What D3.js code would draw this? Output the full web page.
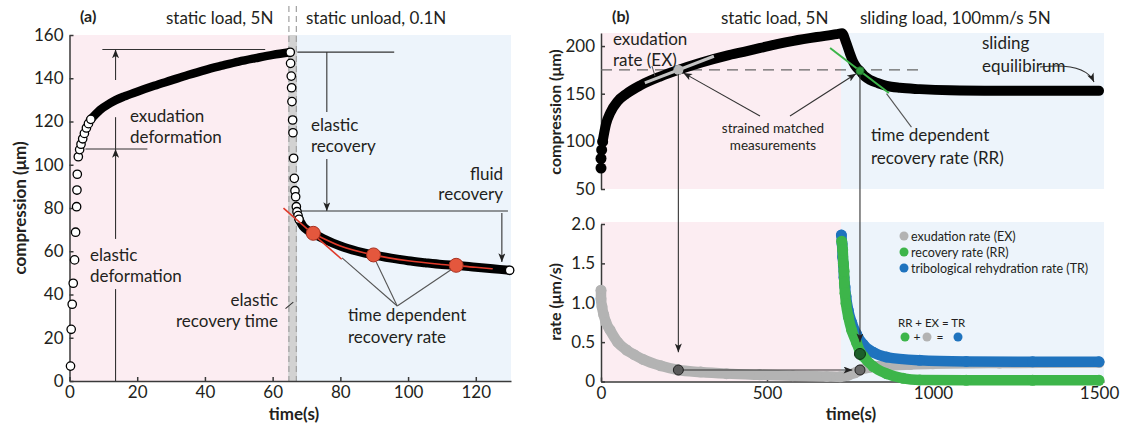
<!DOCTYPE html>
<html><head><meta charset="utf-8">
<script src="https://cdn.jsdelivr.net/npm/d3@7"></script>
<style>
body{margin:0;background:#fff}
text{font-family:Lato,'Open Sans',sans-serif;fill:#231f20}
.axis path,.axis line{stroke:#3a3a3a;stroke-width:1.5}
.axis text{font-family:Lato,'Open Sans',sans-serif;font-size:17px;fill:#231f20}
</style>
</head><body><svg id="c" width="1128" height="427"></svg>
<script>
// ---------- Panel (a) data ----------
const aXTicks = [0,20,40,60,80,100,120];
const aYTicks = [0,20,40,60,80,100,120,140,160];
const aLoadSparseT = [0.3,0.5,0.8,1.1,1.5,1.8,2.1,2.2,2.3,2.6,3.0,3.4,3.9,4.4,5.0,5.6,6.3];
const aLoadSparseV = [6.9,23.9,35.5,45.2,56,68.8,80.6,88.3,95.6,103.7,107,109.5,112,114.5,117,119,121];
const aLoadCurveT = [6,7.5,9,12,16,20,25,30,35,40,45,50,55,60,65.2];
const aLoadCurveV = [120.5,123,125.3,128.5,131.5,133.8,136.5,139,141.5,143.8,145.8,147.7,149.3,150.8,152];
const aUnloadT = [65.2,65.3,65.5,65.6,65.7,65.9,66.0,66.2,66.4,66.6,66.8,67.0,67.2,67.5,67.8];
const aUnloadV = [152,146.9,141,135.6,129.2,120.7,114.8,103,93.7,88,85.2,80.6,78.3,76.5,74.8];
const aRecovT = [67.8,69,70.5,72,75,80,85,90,95,100,105,110,115,120,125,130];
const aRecovV = [74.8,71.5,69.5,68.2,65.8,62.4,60,58.2,56.8,55.6,54.7,53.9,53.4,52.6,51.9,51.2];
const aFitT = [72,80,90,100,110,120,125];
const aFitV = [68.2,62.4,58.2,55.6,53.9,52.6,51.9];
const aRedT = [72,89.8,114.2];
const aRedV = [68.3,58.3,53.5];
const aTangentT = [63.2,80.4];
const aTangentV = [79.9,56.3];

// ---------- Panel (b) data ----------
const bXTicks = [0,500,1000,1500];
const bTopYTicks = [50,100,150,200];
const bBotYTicks = [0,0.5,1.0,1.5,2.0];
const bCompSparseT = [0,0,2,5];
const bCompSparseV = [72,82,91,99.6];
const bCompT = [5,15,28,50,77,120,178,233,300,379,430,480,530,580,650,710,726,738,750,760,770,780,795,810,835,860,900,960,1050,1200,1350,1500];
const bCompV = [100,118,130,142,150,159,168,175,182.5,190,194,198,202,205.5,209.5,212.5,213.5,204,192,183,177.5,174,168,164.5,161,158.3,156.2,154.8,153.6,153.1,153,153];
const bExT = [0,0,3,8,15,27,50,77,100,127,180,233,300,378,478,578,680,720,745,765,780,810,860,931,1000,1200,1500];
const bExV = [1.16,1.05,0.95,0.85,0.75,0.655,0.5,0.40,0.34,0.28,0.2,0.146,0.12,0.10,0.085,0.074,0.065,0.06,0.08,0.11,0.146,0.18,0.2,0.215,0.225,0.235,0.24];
const bRrT = [725,728,730,732,733,735,738,745,755,770,780,790,820,860,910,960,1100,1300,1500];
const bRrV = [1.78,1.67,1.50,1.40,1.25,1.12,0.99,0.82,0.65,0.49,0.38,0.32,0.19,0.10,0.04,0.02,0.015,0.015,0.015];
const bTrT = [724,726,728,730,732,735,738,745,755,770,790,820,860,960,1100,1300,1500];
const bTrV = [1.86,1.75,1.58,1.48,1.32,1.2,1.08,0.9,0.75,0.60,0.47,0.37,0.31,0.27,0.255,0.25,0.25];
const bExPointT = 233, bRrPointT = 780;
const bLegendLabels = ["exudation rate (EX)","recovery rate (RR)","tribological rehydration rate (TR)"];
const bLegendColors = ["#b3b3b3","#3db54a","#1f73be"];

const svg = d3.select("#c");
const zip = (T,V) => T.map((t,i)=>[t,V[i]]);

const defs = svg.append("defs");
defs.append("marker").attr("id","arr").attr("viewBox","0 0 10 8").attr("refX",10).attr("refY",4)
  .attr("markerWidth",9).attr("markerHeight",7).attr("markerUnits","userSpaceOnUse").attr("orient","auto")
  .append("path").attr("d","M0,0 L10,4 L0,8 L2.5,4 z").attr("fill","#222");

// ================= PANEL A =================
const xA = d3.scaleLinear([0,130.4],[69.5,511]);
const yA = d3.scaleLinear([0,160],[381,35]);
const gA = svg.append("g");
gA.append("rect").attr("x",xA(0)).attr("y",yA(160)).attr("width",xA(64.6)-xA(0)).attr("height",yA(0)-yA(160)).attr("fill","#fcedf2");
gA.append("rect").attr("x",xA(67.2)).attr("y",yA(160)).attr("width",xA(130.4)-xA(67.2)).attr("height",yA(0)-yA(160)).attr("fill","#edf4fb");
gA.append("rect").attr("x",xA(64.6)).attr("y",yA(160)).attr("width",xA(67.2)-xA(64.6)).attr("height",yA(0)-yA(160)).attr("fill","#d2d2d2");
[64.8,67.0].forEach(t=>gA.append("line").attr("x1",xA(t)).attr("x2",xA(t)).attr("y1",6).attr("y2",yA(0))
  .attr("stroke","#a0a0a0").attr("stroke-width",1.2).attr("stroke-dasharray","6,4"));

gA.append("g").attr("class","axis").attr("transform",`translate(0,${yA(0)})`)
  .call(d3.axisBottom(xA).tickValues(aXTicks).tickFormat(d3.format("d")).tickSizeInner(-4).tickSizeOuter(0).tickPadding(5));
gA.append("g").attr("class","axis").attr("transform",`translate(${xA(0)},0)`)
  .call(d3.axisLeft(yA).tickValues(aYTicks).tickFormat(d3.format("d")).tickSizeInner(-4).tickSizeOuter(0).tickPadding(6));

const ann = (g,x1,y1,x2,y2,arrow)=>{const l=g.append("line").attr("x1",x1).attr("y1",y1).attr("x2",x2).attr("y2",y2)
  .attr("stroke","#333").attr("stroke-width",1.1); if(arrow) l.attr("marker-end","url(#arr)"); return l;};
ann(gA,xA(9.7),yA(153.3),xA(57.8),yA(153.3));
ann(gA,xA(4.7),yA(107.3),xA(23),yA(107.3));
ann(gA,xA(13.6),yA(139.2),xA(13.6),yA(153.3),true);
ann(gA,xA(13.6),yA(122),xA(13.6),yA(107.3));
ann(gA,xA(13.6),yA(0),xA(13.6),yA(42.5));
ann(gA,xA(13.6),yA(65.7),xA(13.6),yA(107.3),true);
ann(gA,xA(67.3),yA(152.1),xA(95.9),yA(152.1));
ann(gA,xA(76),yA(152.1),xA(76),yA(124.4));
ann(gA,xA(76),yA(102.7),xA(76),yA(78.6),true);
ann(gA,xA(68.4),yA(78.6),xA(129.5),yA(78.6));
ann(gA,xA(127.7),yA(77.7),xA(127.7),yA(55),true);
[[80.5,56.9],[90.6,55],[113.9,52.7]].forEach(p=>ann(gA,xA(96.8),yA(34.7),xA(p[0]),yA(p[1])).attr("stroke","#555"));
gA.append("path").attr("d",`M${xA(63.8)},${yA(33.5)} Q${xA(65.3)},${yA(35.5)} ${xA(66.1)},${yA(36.5)}`)
  .attr("fill","none").attr("stroke","#333").attr("stroke-width",1.1);

const lineA = d3.line().x(d=>xA(d[0])).y(d=>yA(d[1])).curve(d3.curveMonotoneX);
gA.append("path").attr("d",lineA(zip(aLoadCurveT,aLoadCurveV))).attr("fill","none").attr("stroke","#000").attr("stroke-width",8.5).attr("stroke-linecap","round");
gA.append("path").attr("d",lineA(zip(aRecovT,aRecovV))).attr("fill","none").attr("stroke","#000").attr("stroke-width",9).attr("stroke-linecap","round");
gA.selectAll(".ls").data(zip(aLoadSparseT,aLoadSparseV)).join("circle").attr("cx",d=>xA(d[0])).attr("cy",d=>yA(d[1])).attr("r",4.2)
  .attr("fill","#fff").attr("stroke","#000").attr("stroke-width",1.3);
gA.selectAll(".us").data(zip(aUnloadT,aUnloadV)).join("circle").attr("cx",d=>xA(d[0])).attr("cy",d=>yA(d[1])).attr("r",4.2)
  .attr("fill","#fff").attr("stroke","#000").attr("stroke-width",1.3);
gA.append("circle").attr("cx",xA(aRecovT[aRecovT.length-1])).attr("cy",yA(aRecovV[aRecovV.length-1])).attr("r",4.2)
  .attr("fill","#fff").attr("stroke","#000").attr("stroke-width",1.3);
gA.append("path").attr("d",d3.line().x(d=>xA(d[0])).y(d=>yA(d[1])).curve(d3.curveMonotoneX)(zip(aFitT,aFitV)))
  .attr("fill","none").attr("stroke","#e03a2a").attr("stroke-width",1.6);
gA.append("line").attr("x1",xA(aTangentT[0])).attr("y1",yA(aTangentV[0])).attr("x2",xA(aTangentT[1])).attr("y2",yA(aTangentV[1]))
  .attr("stroke","#e03a2a").attr("stroke-width",1.6);
gA.selectAll(".rd").data(zip(aRedT,aRedV)).join("circle").attr("cx",d=>xA(d[0])).attr("cy",d=>yA(d[1])).attr("r",7)
  .attr("fill","#e4573d").attr("stroke","#a83020").attr("stroke-width",1);

const txt = (g,x,y,s,opt={})=>g.append("text").attr("x",x).attr("y",y).text(s)
  .attr("font-size",opt.size||17).attr("font-weight",opt.bold?"bold":null).attr("text-anchor",opt.anchor||"start");
txt(gA,80,22,"(a)",{bold:true,size:16});
txt(gA,166,24,"static load, 5N");
txt(gA,306,24,"static unload, 0.1N");
txt(gA,130,122,"exudation");
txt(gA,130,143,"deformation");
txt(gA,90,261,"elastic");
txt(gA,90,282,"deformation");
txt(gA,311,131,"elastic");
txt(gA,311,152,"recovery");
txt(gA,503,180,"fluid",{anchor:"end"});
txt(gA,503,200,"recovery",{anchor:"end"});
txt(gA,278,306,"elastic",{anchor:"end"});
txt(gA,278,327,"recovery time",{anchor:"end"});
txt(gA,348,321,"time dependent");
txt(gA,348,343,"recovery rate");
txt(gA,294,420,"time(s)",{bold:true,anchor:"middle"});
gA.append("text").attr("transform","translate(26,208) rotate(-90)").attr("text-anchor","middle")
  .attr("font-size",17).attr("font-weight","bold").text("compression (μm)");

// ================= PANEL B =================
const xB = d3.scaleLinear([0,1515],[601,1104]);
const yBt = d3.scaleLinear([50,213.7],[189,33]);
const yBb = d3.scaleLinear([0,2],[381.5,224]);
const gB = svg.append("g");
const split = 723;
gB.append("rect").attr("x",xB(0)).attr("y",33).attr("width",xB(split)-xB(0)).attr("height",yBt(50)-33).attr("fill","#fcedf2");
gB.append("rect").attr("x",xB(split)).attr("y",33).attr("width",xB(1515)-xB(split)).attr("height",yBt(50)-33).attr("fill","#edf4fb");
gB.append("rect").attr("x",xB(0)).attr("y",222).attr("width",xB(split)-xB(0)).attr("height",yBb(0)-222).attr("fill","#fcedf2");
gB.append("rect").attr("x",xB(split)).attr("y",222).attr("width",xB(1515)-xB(split)).attr("height",yBb(0)-222).attr("fill","#edf4fb");

gB.append("g").attr("class","axis").attr("transform",`translate(${xB(0)},0)`)
  .call(d3.axisLeft(yBt).tickValues(bTopYTicks).tickFormat(d3.format("d")).tickSizeInner(-4).tickSizeOuter(0).tickPadding(6));
gB.append("g").attr("class","axis").attr("transform",`translate(${xB(0)},0)`)
  .call(d3.axisLeft(yBb).tickValues(bBotYTicks).tickFormat(d=>d===0?"0":d.toFixed(1)).tickSizeInner(-4).tickSizeOuter(0).tickPadding(6));
gB.append("g").attr("class","axis").attr("transform",`translate(0,${yBb(0)})`)
  .call(d3.axisBottom(xB).tickValues(bXTicks).tickFormat(d3.format("d")).tickSizeInner(-4).tickSizeOuter(0).tickPadding(5));

gB.append("line").attr("x1",xB(0)).attr("x2",xB(976)).attr("y1",yBt(175)).attr("y2",yBt(175))
  .attr("stroke","#666").attr("stroke-width",1.1).attr("stroke-dasharray","11,7");

const lineBt = d3.line().x(d=>xB(d[0])).y(d=>yBt(d[1])).curve(d3.curveMonotoneX);
gB.append("path").attr("d",lineBt(zip(bCompT,bCompV))).attr("fill","none").attr("stroke","#000").attr("stroke-width",10).attr("stroke-linecap","round").attr("stroke-linejoin","round");
gB.selectAll(".cs").data(zip(bCompSparseT,bCompSparseV)).join("circle").attr("cx",d=>xB(d[0])).attr("cy",d=>yBt(d[1])).attr("r",5.5).attr("fill","#000");
gB.append("line").attr("x1",xB(132)).attr("y1",yBt(161.3)).attr("x2",xB(340)).attr("y2",yBt(189.3)).attr("stroke","#c4c4c4").attr("stroke-width",3);
gB.append("line").attr("x1",xB(690)).attr("y1",yBt(198)).attr("x2",xB(867)).attr("y2",yBt(150.7)).attr("stroke","#3db54a").attr("stroke-width",2);
gB.append("circle").attr("cx",xB(bExPointT)).attr("cy",yBt(175)).attr("r",5).attr("fill","#b8b8b8");
gB.append("circle").attr("cx",xB(bRrPointT)).attr("cy",yBt(174)).attr("r",4).attr("fill","#2f9a3c").attr("stroke","#1d6a28").attr("stroke-width",1);

const lineBb = d3.line().x(d=>xB(d[0])).y(d=>yBb(d[1])).curve(d3.curveMonotoneX);
const series = [[bExT,bExV,bLegendColors[0]],[bTrT,bTrV,bLegendColors[2]],[bRrT,bRrV,bLegendColors[1]]];
series.forEach(([T,V,c])=>{
  gB.append("path").attr("d",lineBb(zip(T,V))).attr("fill","none").attr("stroke",c).attr("stroke-width",10.5).attr("stroke-linecap","round");
  gB.append("g").selectAll("circle").data(zip(T,V)).join("circle").attr("cx",d=>xB(d[0])).attr("cy",d=>yBb(d[1])).attr("r",5.5).attr("fill",c);
});

ann(gB,xB(bExPointT),yBt(175)+4,xB(bExPointT),yBb(0.37),true);
ann(gB,xB(bRrPointT),yBt(174)+4,xB(bRrPointT),yBb(0.5),true);
ann(gB,xB(bExPointT),yBb(0.146),xB(757),yBb(0.146),true);
gB.append("circle").attr("cx",xB(bExPointT)).attr("cy",yBb(0.146)).attr("r",5).attr("fill","#5a5a5a").attr("stroke","#222").attr("stroke-width",1);
gB.append("circle").attr("cx",xB(bRrPointT)).attr("cy",yBb(0.146)).attr("r",5).attr("fill","#6a6a6a").attr("stroke","#222").attr("stroke-width",1);
gB.append("circle").attr("cx",xB(bRrPointT)).attr("cy",yBb(0.35)).attr("r",5.5).attr("fill","#1c5e2a").attr("stroke","#0c2e12").attr("stroke-width",1);

ann(gB,760,116,xB(bExPointT)+5,yBt(175)+3,true);
ann(gB,790,116,xB(bRrPointT)-4,yBt(174)+3,true);
ann(gB,xB(860),yBt(150),xB(935),yBt(115)).attr("stroke","#555");
gB.append("line").attr("x1",652).attr("y1",66).attr("x2",655).attr("y2",76).attr("stroke","#555").attr("stroke-width",1);
gB.append("path").attr("d","M1040,67 Q1085,62 1094,82").attr("fill","none").attr("stroke","#333").attr("stroke-width",1.1).attr("marker-end","url(#arr)");

txt(gB,612,22,"(b)",{bold:true,size:16});
txt(gB,721,24,"static load, 5N");
txt(gB,860,24,"sliding load, 100mm/s 5N");
txt(gB,613,45,"exudation");
txt(gB,613,66,"rate (EX)");
txt(gB,773,133,"strained matched",{anchor:"middle",size:13.5});
txt(gB,773,150,"measurements",{anchor:"middle",size:13.5});
txt(gB,982,49,"sliding");
txt(gB,982,72,"equilibirum");
txt(gB,871,141,"time dependent");
txt(gB,871,164,"recovery rate (RR)");
txt(gB,851,420,"time(s)",{bold:true,anchor:"middle"});
gB.append("text").attr("transform","translate(561,112) rotate(-90)").attr("text-anchor","middle")
  .attr("font-size",16).attr("font-weight","bold").text("compression (μm)");
gB.append("text").attr("transform","translate(561,302) rotate(-90)").attr("text-anchor","middle")
  .attr("font-size",16).attr("font-weight","bold").text("rate (μm/s)");

bLegendLabels.forEach((l,i)=>{
  gB.append("circle").attr("cx",904).attr("cy",236+i*16).attr("r",4.5).attr("fill",bLegendColors[i]);
  txt(gB,911,240.5+i*16,l,{size:12.5});
});
txt(gB,898,327,"RR + EX = TR",{size:11.5});
gB.append("circle").attr("cx",905).attr("cy",337).attr("r",4.5).attr("fill",bLegendColors[1]);
txt(gB,917,341,"+",{size:12,anchor:"middle"});
gB.append("circle").attr("cx",927).attr("cy",337).attr("r",4.5).attr("fill",bLegendColors[0]);
txt(gB,940,341,"=",{size:12,anchor:"middle"});
gB.append("circle").attr("cx",958).attr("cy",337).attr("r",4.5).attr("fill",bLegendColors[2]);
</script></body></html>
